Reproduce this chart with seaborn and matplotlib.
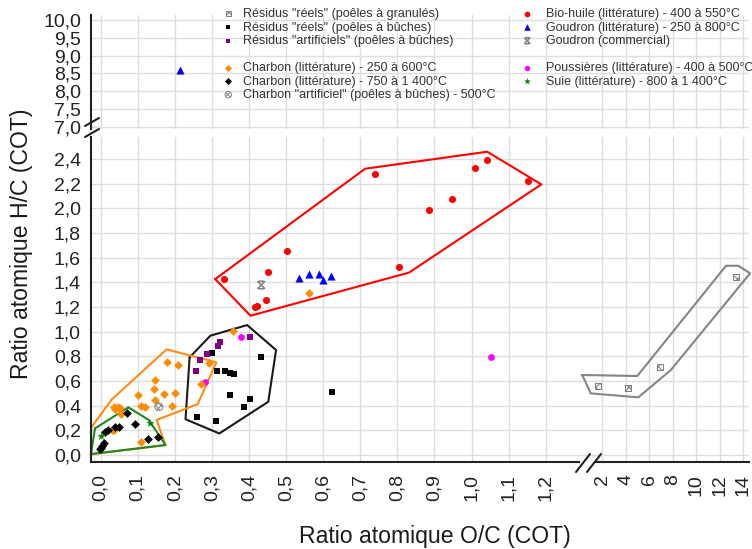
import matplotlib
matplotlib.use('Agg')
import matplotlib.pyplot as plt
import seaborn as sns
from matplotlib.lines import Line2D
from matplotlib.path import Path
from matplotlib.ticker import MultipleLocator, FuncFormatter, NullLocator

# --- données (ratios atomiques) ---
# Bio-huile (littérature) - 400 à 550°C
biohuile_oc = [0.332, 0.450, 0.502, 0.447, 0.415, 0.421, 0.740, 0.884, 0.947, 0.803, 1.009, 1.041, 1.152]
biohuile_hc = [1.427, 1.487, 1.654, 1.257, 1.203, 1.206, 2.281, 1.984, 2.076, 1.527, 2.328, 2.393, 2.222]
# Goudron (littérature) - 250 à 800°C
goudron_oc = [0.536, 0.561, 0.590, 0.600, 0.621]
goudron_hc = [1.436, 1.465, 1.465, 1.419, 1.454]
goudron_haut_oc = [0.214]
goudron_haut_hc = [8.6]
# Goudron (commercial)
goudron_com_oc = [0.433]
goudron_com_hc = [1.379]
# Résidus "réels" (poêles à bûches)
buches_oc = [0.300, 0.315, 0.335, 0.348, 0.360, 0.433, 0.348, 0.402, 0.386, 0.261, 0.310, 0.624]
buches_hc = [0.830, 0.684, 0.684, 0.667, 0.657, 0.792, 0.487, 0.457, 0.387, 0.311, 0.278, 0.514]
# Résidus "artificiels" (poêles à bûches)
artif_oc = [0.322, 0.316, 0.288, 0.269, 0.256, 0.403]
artif_hc = [0.919, 0.884, 0.817, 0.770, 0.684, 0.954]
# Poussières (littérature) - 400 à 500°C
pouss_oc = [0.378, 0.281, 1.051]
pouss_hc = [0.954, 0.590, 0.795]
# Charbon (littérature) - 250 à 600°C
charbon_bas_oc = [0.357, 0.292, 0.270, 0.178, 0.208, 0.147, 0.144, 0.172, 0.200, 0.100, 0.147, 0.109,
                  0.120, 0.193, 0.037, 0.046, 0.040, 0.052, 0.055, 0.030, 0.036, 0.110, 0.563]
charbon_bas_hc = [1.008, 0.744, 0.573, 0.752, 0.730, 0.608, 0.533, 0.492, 0.505, 0.490, 0.446, 0.397,
                  0.390, 0.397, 0.390, 0.392, 0.372, 0.382, 0.330, 0.205, 0.205, 0.108, 1.311]
# Charbon (littérature) - 750 à 1 400°C
charbon_haut_oc = [0.070, 0.094, 0.039, 0.050, 0.019, 0.013, 0.010, 0.005, 0.001, -0.002, 0.129, 0.155]
charbon_haut_hc = [0.338, 0.251, 0.224, 0.224, 0.203, 0.190, 0.095, 0.073, 0.054, 0.046, 0.127, 0.144]
# Suie (littérature) - 800 à 1 400°C
suie_oc = [0.000, 0.134]
suie_hc = [0.155, 0.262]
# Charbon "artificiel" (poêles à bûches) - 500°C
charbon_art_oc = [0.157]
charbon_art_hc = [0.392]
# Résidus "réels" (poêles à granulés)
granules_oc = [1.63, 4.24, 6.94, 13.4]
granules_hc = [0.560, 0.546, 0.711, 1.446]

# enveloppes
poly_rouge_oc = [0.309, 0.713, 1.042, 1.188, 0.831, 0.404]
poly_rouge_hc = [1.427, 2.322, 2.460, 2.195, 1.479, 1.130]
poly_noir_oc = [0.240, 0.296, 0.395, 0.473, 0.452, 0.320, 0.229]
poly_noir_hc = [0.792, 0.968, 1.054, 0.852, 0.432, 0.175, 0.290]
poly_orange_oc = [-0.026, -0.025, 0.030, 0.178, 0.312, 0.262, 0.151, 0.175]
poly_orange_hc = [0.006, 0.224, 0.450, 0.857, 0.752, 0.414, 0.284, 0.081]
poly_vert_oc = [-0.015, 0.075, 0.130, 0.175, -0.026]
poly_vert_hc = [0.216, 0.387, 0.284, 0.081, 0.008]
poly_gris_oc = [0.32, 1.04, 5.09, 7.85, 14.6, 13.6, 12.55, 5.0]
poly_gris_hc = [0.649, 0.500, 0.468, 0.689, 1.474, 1.535, 1.535, 0.641]

sns.set_style('white')
plt.rcParams['font.family'] = ['Liberation Sans', 'DejaVu Sans']
plt.rcParams['hatch.linewidth'] = 0.6

fig = plt.figure(figsize=(7.52, 5.49), dpi=100)
# fonds pour les lignes de grille horizontales continues
bg_low = fig.add_axes([0.1214, 0.1588, 0.8745, 0.5918])
bg_up = fig.add_axes([0.1214, 0.7659, 0.8745, 0.2073])
ax_ll = fig.add_axes([0.1214, 0.1588, 0.6488, 0.5918])
ax_lr = fig.add_axes([0.7912, 0.1588, 0.2047, 0.5918])
ax_ul = fig.add_axes([0.1214, 0.7659, 0.6488, 0.2073])
ax_ur = fig.add_axes([0.7912, 0.7659, 0.2047, 0.2073])

tick_size = 14
grid_col = '#dedede'
spine_col = '#222222'


def virgule(v, pos):
    if abs(v) < 1e-9:
        v = 0.0
    return f"{v:.1f}".replace('.', ',')


def pts(ax, x, y, color, marker, s):
    sns.scatterplot(x=x, y=y, ax=ax, color=color, marker=marker, s=s,
                    linewidth=0, legend=False, zorder=3)
    return ax.collections[-1]


def contour(ax, x, y, color):
    xs = x + x[:1]
    ys = y + y[:1]
    ax.plot(xs, ys, color=color, lw=1.5, zorder=2, clip_on=False)


# enveloppes
contour(ax_ll, poly_rouge_oc, poly_rouge_hc, '#ff0000')
contour(ax_ll, poly_noir_oc, poly_noir_hc, '#1a1a1a')
contour(ax_ll, poly_orange_oc, poly_orange_hc, '#ff8a14')
contour(ax_ll, poly_vert_oc, poly_vert_hc, '#1f8a1f')
contour(ax_lr, poly_gris_oc, poly_gris_hc, '#858585')

# points
h_bio = pts(ax_ll, biohuile_oc, biohuile_hc, '#ff0000', 'o', 26)
h_gou = pts(ax_ll, goudron_oc, goudron_hc, '#0000ff', '^', 34)
pts(ax_ul, goudron_haut_oc, goudron_haut_hc, '#0000ff', '^', 34)
h_buc = pts(ax_ll, buches_oc, buches_hc, '#000000', 's', 20)
h_art = pts(ax_ll, artif_oc, artif_hc, '#800080', 's', 20)
h_pou = pts(ax_ll, pouss_oc, pouss_hc, '#ff00ff', 'o', 24)
h_cb1 = pts(ax_ll, charbon_bas_oc, charbon_bas_hc, '#ff8c00', 'D', 20)
h_cb2 = pts(ax_ll, charbon_haut_oc, charbon_haut_hc, '#000000', 'D', 20)
h_sui = pts(ax_ll, suie_oc, suie_hc, '#008000', '*', 40)

croix = Path([(-1, -1), (1, 1), (-1, 1), (1, -1), (-0.7, 1), (0.7, 1), (-0.7, -1), (0.7, -1)],
             [Path.MOVETO, Path.LINETO] * 4)
h_com = ax_ll.scatter(goudron_com_oc, goudron_com_hc, marker=croix, s=30, facecolors='none',
                      edgecolors='#808080', linewidths=1.1, zorder=3)
h_cart = ax_ll.scatter(charbon_art_oc, charbon_art_hc, marker='o', s=34, facecolors='#f2f2f2',
                       edgecolors='#7a7a7a', linewidths=0.6, hatch='xxxxxx', zorder=3)
h_gra = ax_lr.scatter(granules_oc, granules_hc, marker='s', s=20, facecolors='#f2f2f2',
                      edgecolors='#6e6e6e', linewidths=0.6, hatch='xxxx', zorder=3)

# grilles horizontales continues
for bg, lim, step in ((bg_low, (-0.055, 2.58), 0.2), (bg_up, (6.95, 10.15), 0.5)):
    bg.set_ylim(*lim)
    bg.yaxis.set_major_locator(MultipleLocator(step))
    bg.xaxis.set_major_locator(NullLocator())
    bg.grid(True, axis='y', color=grid_col, lw=1)
    bg.tick_params(left=False, labelleft=False, bottom=False, labelbottom=False)
    bg.patch.set_visible(False)
    for sp in bg.spines.values():
        sp.set_visible(False)

# axes
for ax in (ax_ll, ax_lr, ax_ul, ax_ur):
    ax.patch.set_visible(False)
    ax.set_axisbelow(True)
    for sp in ax.spines.values():
        sp.set_visible(False)
        sp.set_color(spine_col)
        sp.set_linewidth(1.5)
    ax.tick_params(which='both', direction='out', colors=spine_col, labelcolor='#222222',
                   labelsize=tick_size)
    ax.tick_params(which='major', length=6, width=1.2)
    ax.tick_params(which='minor', length=3, width=1.0)
    ax.grid(True, axis='x', which='major', color=grid_col, lw=1)

for ax in (ax_ll, ax_ul):
    ax.set_xlim(-0.025, 1.29)
    ax.xaxis.set_major_locator(MultipleLocator(0.1))
    ax.xaxis.set_minor_locator(MultipleLocator(0.05))
    ax.xaxis.set_major_formatter(FuncFormatter(virgule))
    ax.spines['left'].set_visible(True)
for ax in (ax_lr, ax_ur):
    ax.set_xlim(1.4, 14.5)
    ax.xaxis.set_major_locator(MultipleLocator(2))
    ax.xaxis.set_minor_locator(MultipleLocator(1))
for ax in (ax_ll, ax_lr):
    ax.set_ylim(-0.055, 2.58)
    ax.yaxis.set_major_locator(MultipleLocator(0.2))
    ax.yaxis.set_minor_locator(MultipleLocator(0.1))
    ax.yaxis.set_major_formatter(FuncFormatter(virgule))
    ax.spines['bottom'].set_visible(True)
    ax.tick_params(axis='x', labelrotation=90, pad=3)
for ax in (ax_ul, ax_ur):
    ax.set_ylim(6.95, 10.15)
    ax.yaxis.set_major_locator(MultipleLocator(0.5))
    ax.yaxis.set_minor_locator(MultipleLocator(0.25))
    ax.yaxis.set_major_formatter(FuncFormatter(virgule))
    ax.tick_params(axis='x', which='both', bottom=False, labelbottom=False)

ax_ll.tick_params(axis='y', pad=1.5)
ax_ul.tick_params(axis='y', pad=1.5)
for ax in (ax_lr, ax_ur):
    ax.tick_params(axis='y', which='both', left=False, labelleft=False)

# coupures d'axes
def slash(x0, y0, x1, y1):
    fig.add_artist(Line2D([x0 / 752, x1 / 752], [1 - y0 / 549, 1 - y1 / 549],
                          color=spine_col, lw=1.5))

slash(85, 126, 99, 118)
slash(85, 137, 99, 129)
slash(576, 472, 590, 454)
slash(587, 472, 601, 454)

# titres d'axes
fig.text(22 / 752, 1 - 244 / 549, 'Ratio atomique H/C (COT)', rotation=90,
         ha='center', va='center', fontsize=16.6, color='#1a1a1a')
fig.text(435 / 752, 1 - 536 / 549, 'Ratio atomique O/C (COT)',
         ha='center', va='center', fontsize=16.6, color='#1a1a1a')

# légende
vide = Line2D([], [], linestyle='none')
leg1 = fig.legend([h_gra, h_buc, h_art, vide, h_cb1, h_cb2, h_cart],
                  ['Résidus "réels" (poêles à granulés)', 'Résidus "réels" (poêles à bûches)',
                   'Résidus "artificiels" (poêles à bûches)', ' ',
                   'Charbon (littérature) - 250 à 600°C', 'Charbon (littérature) - 750 à 1 400°C',
                   'Charbon "artificiel" (poêles à bûches) - 500°C'],
                  loc='upper left', bbox_to_anchor=(222 / 752, 1 - 8 / 549), frameon=False,
                  fontsize=9, borderpad=0, borderaxespad=0, handlelength=1.0,
                  handletextpad=0.7, labelspacing=0.12, markerscale=0.8, labelcolor='#333333')
leg2 = fig.legend([h_bio, h_gou, h_com, vide, h_pou, h_sui],
                  ['Bio-huile (littérature) - 400 à 550°C', 'Goudron (littérature) - 250 à 800°C',
                   'Goudron (commercial)', ' ',
                   'Poussières (littérature) - 400 à 500°C', 'Suie (littérature) - 800 à 1 400°C'],
                  loc='upper left', bbox_to_anchor=(521 / 752, 1 - 8 / 549), frameon=False,
                  fontsize=9, borderpad=0, borderaxespad=0, handlelength=1.0,
                  handletextpad=1.0, labelspacing=0.12, markerscale=0.8, labelcolor='#333333')

fig.savefig('out.png', dpi=100)
